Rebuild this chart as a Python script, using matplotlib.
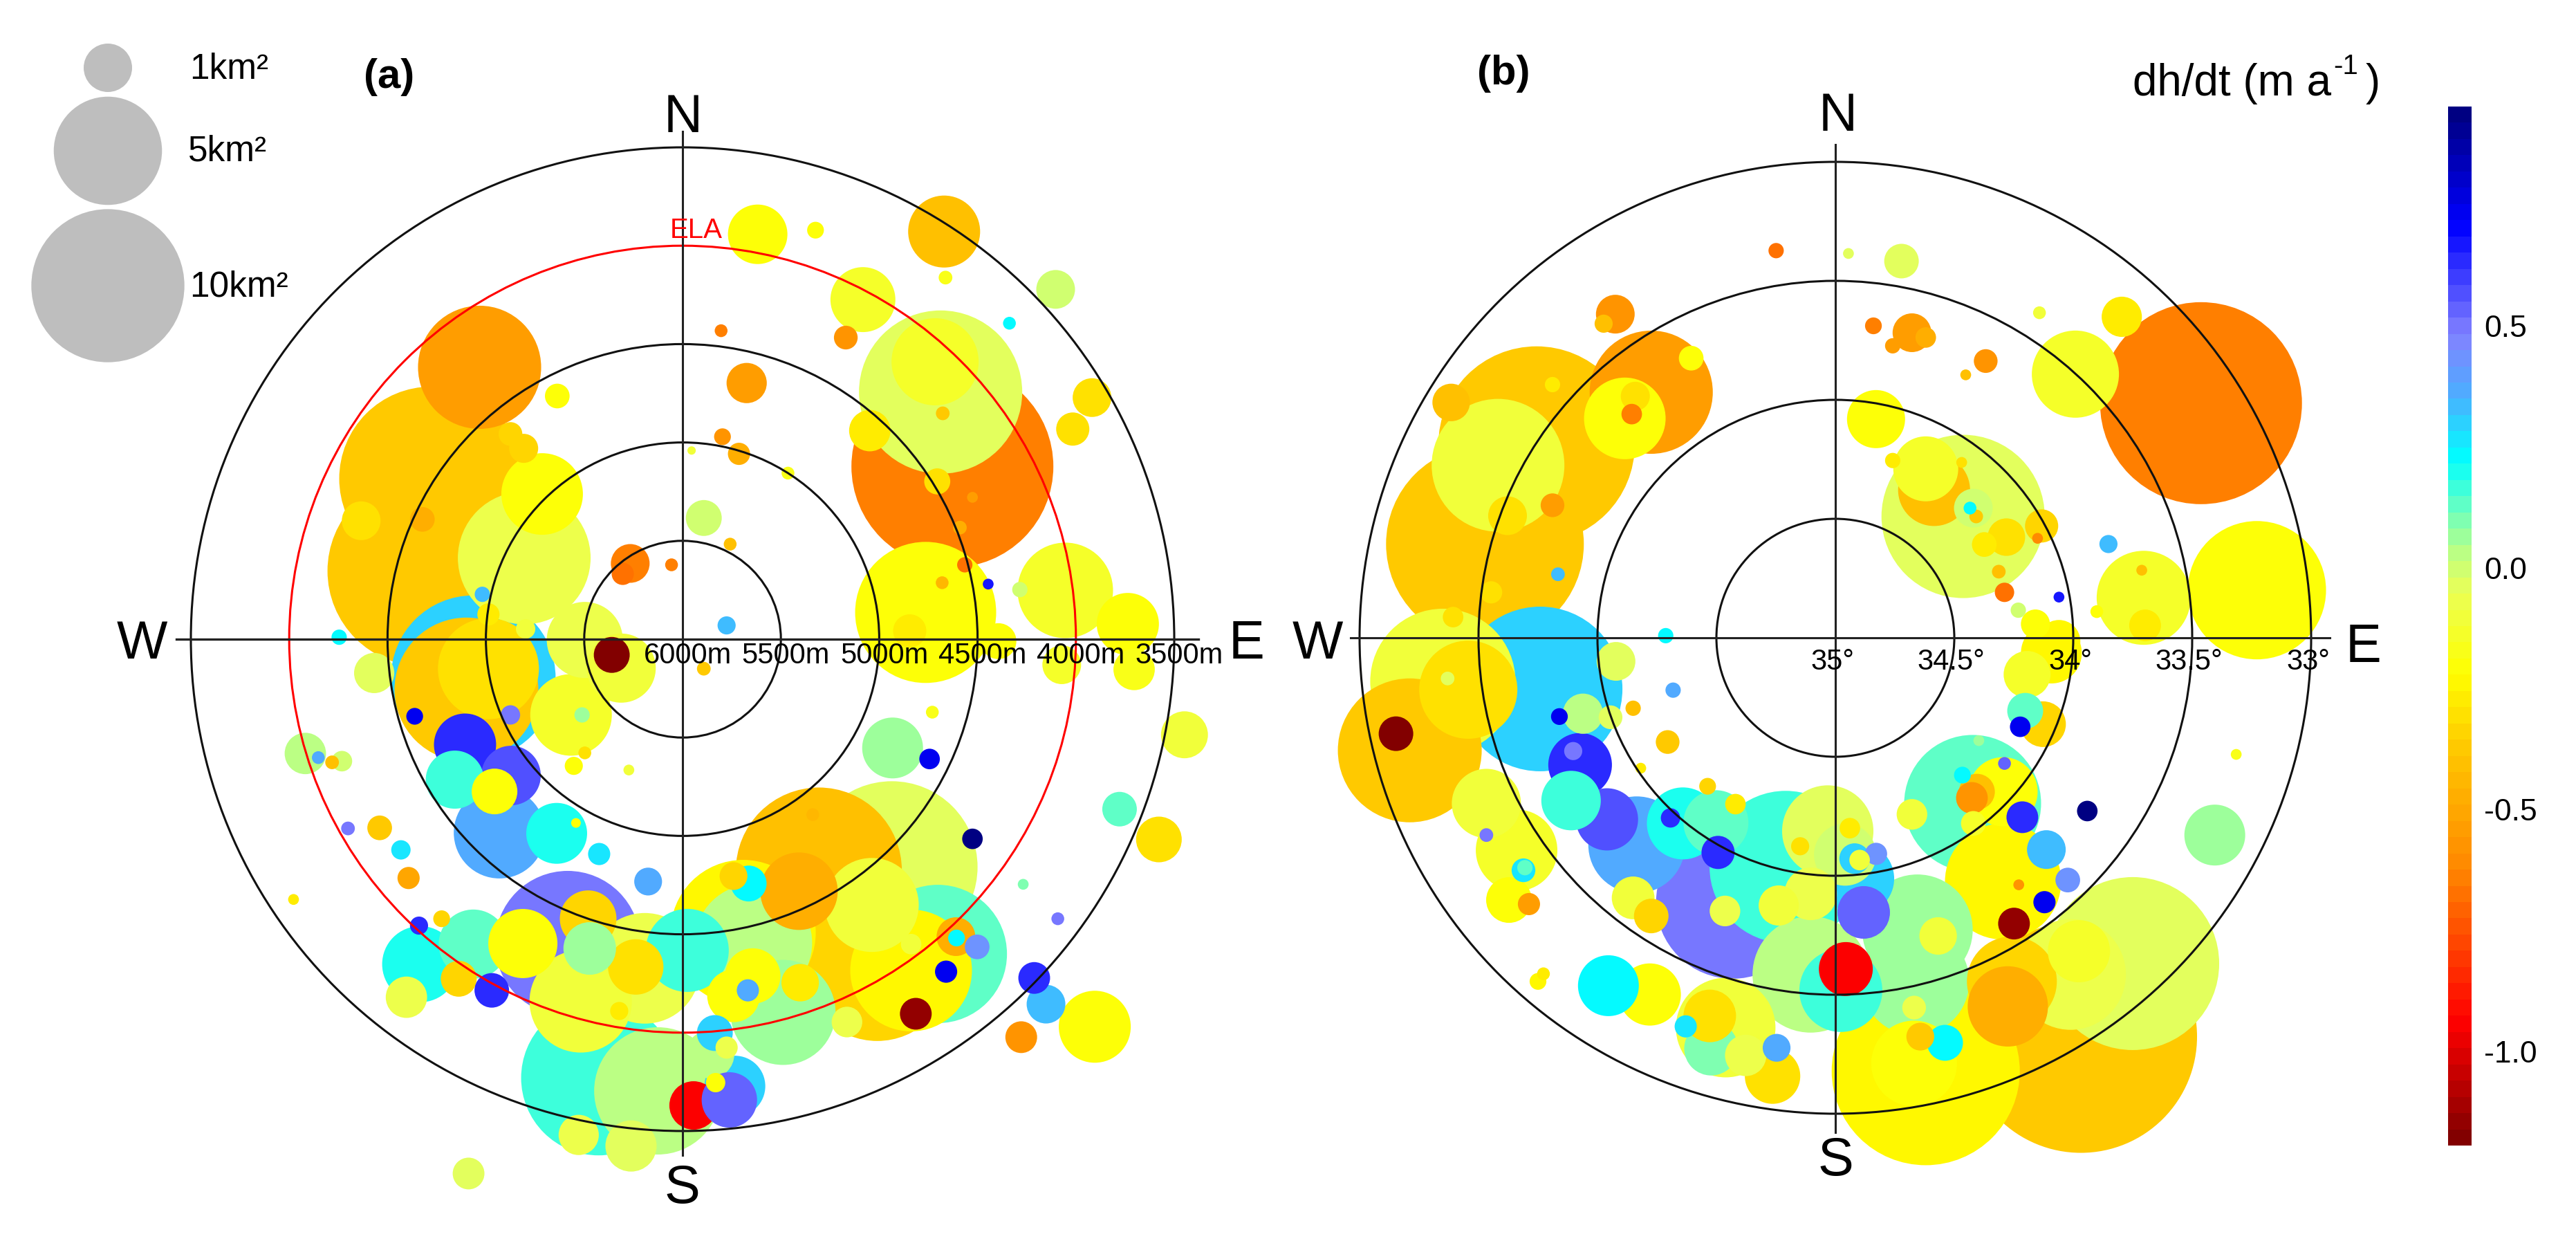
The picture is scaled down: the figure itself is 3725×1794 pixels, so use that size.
import numpy as np
import matplotlib
matplotlib.use('Agg')
import matplotlib.pyplot as plt
from matplotlib.cm import ScalarMappable
from matplotlib.colors import LinearSegmentedColormap, Normalize
from matplotlib.patches import Circle

plt.rcParams['font.family'] = ['Liberation Sans', 'DejaVu Sans']
plt.rcParams['axes.unicode_minus'] = False

W, H = 3725, 1794

# panel a: east / north offset in metres of elevation below 6000 m, area km2, dh/dt m/a
a_east = [
    -1278, -1320, -1032, -805, -497, -1064, -1099, -987, -714, -312, -567, -1568, -1746, -1018, -987, -798, -875, -808, -637, -1634, -1323, -266, -304, -56, 46, 108, -360,
    382, 676, 1330, 1337, 1897, 1662, 917, 830, 196, 326, 1372, 1312, 1284, 1323, 952, 2082, 1984, 203, 287, 536, 242, 1295, 1474, 1410, 1236, 1435, 1320, 1155, 1554, 1928, 2296, 1946, 1715, 2264, 1606, 224,
    108, -1362, -875, -511, -497, -553, -273, -1106, -931, -872, -1158, -956, -640, -542, -1918, -1732, -1852, -1782, 1068, 1256, 1270, 2552, 2222, 2422, 1474, 1732, 1908, 1848, 1788, 2096, 1722, -1701, -1540, -1432, -1393, -1978, -424, -175,
    -427, -126, -584, 693, 1064, 990, 1298, 1162, 1162, 962, 592, 308, 360, 511, -192, -518, -480, -472, 24, -238, -1334, -1064, -812, -1138, -970, -1404, -1340, -1225, -322, 259, 357, 332, 598, 336, 259, 662, 1390, 1393, 1498, 1340, 1186, 836, 140, 164, 224, 266, 56, -528, -262, -1088,
]
a_north = [
    816, 347, 1382, 413, -4, -196, -256, -150, 738, -147, -385, -172, 10, 228, 126, 52, 1043, 970, 1236, 602, 609, 385, 332, 378, 959, 616, -80,
    2058, 2079, 2072, 1838, 1778, 1606, 1726, 1533, 1568, 1302, 878, 1256, 1410, 1148, 1060, 1228, 1068, 1029, 942, 844, 483, 802, 721, 567, 136, 378, 287, 42, 280, -130, -154, 248, 252, 77, -10, 70,
    -150, -392, -385, -385, -578, -644, -665, -536, -984, -693, -714, -774, -987, -934, -581, -620, -602, -626, -553, -609, -371, -486, -864, -1018, -1015, -1246, -1421, -1855, -1722, -1970, -2023, -962, -959, -1071, -1214, -1323, -1092, -1232,
    -2230, -2296, -1547, -1176, -1158, -1666, -1600, -1684, -1550, -1351, -1281, -1491, -1544, -1897, -1673, -1841, -1421, -1572, -1582, -1666, -1652, -1550, -1547, -1726, -1785, -1820, -1456, -1421, -1890, -1813, -1712, -1785, -1746, -1242, -1204, -892, -1512, -1519, -1564, -1690, -1904, -1946, -2110, -2002, -2076, -2272, -2370, -2520, -2576, -2716,
]
a_area = [
    14.44, 15.55, 6.47, 7.52, 2.47, 11.56, 8.83, 4.35, 2.84, 2.04, 2.84, .69, .10, .10, .21, .16, .24, .36, .26, .64, .26, .64, .21, .07, .03, .55, .55,
    1.51, .12, 2.21, .08, .64, .07, 1.8, .24, .07, .69, 17.4, 11.37, 3.24, .08, .73, .64, .47, .12, .21, .07, .07, .29, .05, .08, 8.49, .10, .07, .47, .05, .64, .73, 3.89, .10, 1.65, .55, .14,
    .08, .12, .16, .10, .07, .14, .05, 1.65, 3.56, 1.51, 1.44, .89, 1.58, .04, .73, .18, .07, .08, 1.58, .18, .07, .94, .51, .89, .18, .05, .07, .64, .43, 2.21, .43, .08, .26, .16, .21, .05, .21, .33,
    10.24, 6.91, 9.0, 11.76, 12.55, 9.35, 8.16, 6.32, .18, 3.77, 2.56, 9.0, 5.9, 4.71, 5.22, 4.47, 1.37, 1.18, 2.94, 1.31, 2.47, 2.04, 2.04, .55, .51, .73, .14, .12, .14, 1.18, 1.31, .21, .6, .55, .33, .07, .64, .12, .26, .21, .43, .40, 1.0, .55, .21, 1.58, 1.0, .69, 1.12, .43,
]
a_dhdt = [
    -.37, -.37, -.53, -.08, -.08, .29, -.37, -.31, -.22, -.09, -.13, -.05, .245, .32, -.26, -.09, -.33, -.33, -.22, -.31, -.48, -.63, -.69, -.63, -.1, .0, -1.19,
    -.22, -.22, -.42, -.18, .01, .245, -.13, -.57, -.63, -.53, -.63, -.05, -.13, -.37, -.26, -.31, -.31, -.57, -.48, -.18, -.42, -.29, -.53, -.48, -.22, -.69, -.45, -.28, .67, -.13, -.18, -.13, .01, -.22, -.22, .33,
    -.37, .72, .50, .08, -.31, -.22, -.09, .63, .36, .56, .16, -.22, .21, -.22, .02, .0, .36, -.42, .055, .72, -.18, -.09, .12, -.31, .93, .10, .50, .32, .65, -.22, -.57, .5, -.37, .28, -.5, -.26, .28, .36,
    .17, .03, .49, -.40, -.05, -.33, .14, -.25, -.1, -.09, -.48, -.25, .04, .055, -.06, -.09, -.33, .08, .17, -.29, .21, .14, -.22, -.33, .63, -.07, .65, -.33, -.26, -.22, -.22, .36, -.27, .245, -.33, -.45, -.48, .23, .44, .74, -1.14, -.07, .02, .29, -.07, .30, -.95, -.08, -.04, -.04,
]
# these two lie over the red one although they are not the larger
a_top_east = [238, 168]
a_top_north = [-2342, -2254]
a_top_area = [1.31, .16]
a_top_dhdt = [.52, -.22]

# panel b: east / north offset in degrees of latitude from 35N, area km2, dh/dt m/a
b_east = [
    -1.256, -1.473, -1.418, -1.615, -1.189, -1.189, -1.378, -1.447, -1.166, -1.607, -.774, -.606, -.885, -.841, -.856, -.925, -.974, -.249, .055, .278, .16, .322, .38, .241, .632, .548, .858,
    1.537, 1.204, 1.009, .171, .241, .537, .415, .38, .531, .58, .592, .566, .626, .719, .867, .85, .687, .711, 1.148, .94, .769, .908, .841, .94, .806, 1.772, 1.296, 1.288, 1.302, 1.099,
    -1.467, -1.34, -1.241, -1.65, -1.543, -1.789, -1.63, -1.847, -1.467, -.713, -.922, -.682, -.85, -.705, -1.061, -1.16, -.945, -.835, -1.073, -1.102, -.96, -1.111, -1.311, -1.305, -1.372, -1.288, -.818,
    -.432, -.85, -.774, -.209, -.502, -.641, -.537, -.42, -.693, -.493, -.032, .041, .061, -.148, .096, .081, .102, .171, .119, -.104, -.238, -.464,
    .345, .336, .432, .331, -.104, .023, .044, -.78, -.954, -1.25, -1.227, -.461, -.528, -.377, -.522, -.629, -.264, -.247,
    1.032, .742, .38, .331, .357, .461, 1.25, .989, 1.024, .725, .577, .705, .705, .595, .574, .534, .711, .603, .322, .58, .786, .887, .977, .771, .879, .751, 1.059, 1.595, 1.685, .873, .798, .777,
]
b_north = [
    .812, .394, .725, .989, 1.064, .557, .513, .191, .267, .087, 1.032, 1.175, .922, 1.015, .94, 1.36, 1.32, 1.627, 1.615, 1.583, 1.311, 1.282, 1.262, 1.227, 1.163, 1.105, 1.366,
    .986, 1.349, 1.108, .919, .745, .51, .621, .71, .737, .545, .51, .545, .392, .423, .47, .418, .278, .191, .394, .171, .116, -.064, .058, -.015, -.154, .2, .168, .284, .052, .11,
    -.696, -.893, -.215, -.183, -.218, -.473, -.171, -.403, -.829, .009, -.099, -.22, -.296, -.438, -.319, -.331, -.334, -.87, -.534, -.476, -.763, -.684, -.977, -.966, -1.102, -1.119, -.548,
    -1.111, -1.093, -1.169, -.963, -.777, -.78, -.624, -.699, -.757, -.902, -.812, -.911, -.8, -.876, -1.012, -.928, -.934, -.908, -1.154, -1.076, -1.125, -1.148,
    -1.227, -1.444, -1.253, -1.554, -1.415, -1.482, -1.392, -1.499, -1.462, -1.444, -1.412, -1.638, -1.589, -1.755, -1.726, -1.633, -1.842, -1.723,
    -1.676, -1.444, -1.821, -1.789, -1.676, -1.702, -1.369, -1.415, -1.317, -1.549, -.696, -1.024, -.647, -.647, -.673, -.577, -.528, -.432, -.742, -.78, -.754, -.89, -1.018, -1.038, -1.111, -1.201, -.728, -.829, -.49, -.363, -.307, -.374,
]
b_area = [
    16.46, 16.69, 7.52, .6, .10, .24, .64, .21, .08, .18, 6.47, .26, 2.84, .36, .18, .64, .14, .10, .05, .51, .12, .64, .18, .10, .24, .05, .07,
    17.4, .69, 3.24, 1.44, .10, 11.37, 2.21, 1.8, .05, .64, .08, .07, .26, .6, .47, .05, .08, .16, .14, .05, .10, 1.58, .36, .78, .94, 8.16, 3.77, .05, .43, .07,
    2.04, 2.84, 11.56, 9.0, 4.11, 8.83, .08, .51, .08, .10, .64, .10, .10, .24, .69, .12, .24, 4.0, 1.73, .14, 1.65, 1.51, .24, .10, .89, .21, .05,
    10.0, .78, .51, 9.88, 1.8, 2.21, .12, .18, .16, .47, 3.56, 1.65, .18, .14, 2.21, .40, .18, .21, 1.18, 1.18, .69, .40,
    5.22, 4.97, .6, .24, 5.76, 2.94, 1.24, 1.65, 1.58, .12, .07, 4.23, 1.18, .73, 1.24, .21, 1.31, .33,
    23.04, 3.45, 15.1, 3.14, .33, .55, 12.76, 5.22, 1.65, 2.75, 8.0, 5.76, 2.04, .55, .43, .12, .07, .05, .40, .26, .43, .64, .26, .05, .21, .43, .18, 1.58, .05, .89, .55, .18,
]
b_dhdt = [
    -.37, -.37, -.09, -.42, -.26, -.53, -.29, -.31, .33, -.29, -.53, -.22, -.22, -.31, -.63, -.57, -.4, -.69, -.05, -.04, -.63, -.55, -.48, -.55, -.57, -.42, -.09,
    -.63, -.26, -.13, -.22, -.26, -.05, -.42, -.13, -.3, .01, -.37, .245, -.28, -.31, -.33, -.6, -.42, -.69, .33, .67, .01, -.24, -.2, -.24, -.13, -.22, -.13, -.42, -.28, -.22,
    -.09, -.15, .29, -.09, -.31, -.37, -.05, -1.19, .5, .245, -.05, .36, -.42, -.37, .02, .72, -.05, .36, .63, .5, .56, .16, .28, .12, -.22, -.53, -.26,
    .49, -.09, -.33, .15, .14, .2, -.33, -.27, .65, .63, -.05, .0, -.26, -.29, .31, .3, -.09, .42, .52, -.08, -.09, -.08,
    .055, .055, -.1, -.06, .03, .18, -.95, -.22, .22, -.24, -.26, -.09, -.31, -.06, .085, .28, -.3, .36,
    -.37, -.35, -.24, -.22, -.37, .245, -.05, -.08, -.13, -.48, .13, -.24, -.22, -.42, -.57, .245, .52, .08, -.09, -.13, .65, .32, .44, -.57, .74, -1.14, .93, .055, -.18, -.33, .14, .72,
]

elevations = [5500, 5000, 4500, 3500]
ela = 4000
elev_labels = [6000, 5500, 5000, 4500, 4000, 3500]
latitudes = [34.5, 34, 33.5, 33]
lat_labels = ['35°', '34.5°', '34°', '33.5°', '33°']
lat_values = [35, 34.5, 34, 33.5, 33]
legend_areas = [1, 5, 10]
cbar_ticks = [-1.0, -0.5, 0.0, 0.5]
vmin, vmax = -1.194, 0.953

cmap_vals = [-1.194, -.95, -.63, -.38, -.22, -.05, .03, .12, .23, .36, .49, .72, .953]
cmap_cols = ['#820000', '#ff0000', '#ff8700', '#ffc800', '#ffff00', '#ebff55', '#beff82', '#6effbe',
             '#00ffff', '#4bafff', '#8282ff', '#0000ff', '#000082']

cmap = LinearSegmentedColormap.from_list(
    'dhdt', [((v - vmin) / (vmax - vmin), c) for v, c in zip(cmap_vals, cmap_cols)], N=64)
norm = Normalize(vmin, vmax)

# 1 km2 is 35 px in radius on the reference, at dpi 100
size_k = (2 * 35 * 0.72) ** 2

fig = plt.figure(figsize=(W / 100, H / 100), dpi=100)


def panel_axes(cx, cy, ppu):
    # full figure axes with the origin at the middle of the polar plot
    ax = fig.add_axes([0, 0, 1, 1])
    ax.set_xlim(-cx / ppu, (W - cx) / ppu)
    ax.set_ylim(-(H - cy) / ppu, cy / ppu)
    ax.axis('off')
    ax.patch.set_alpha(0)
    return ax


def bubbles(ax, east, north, area, dhdt):
    # big glaciers go below the small ones
    order = np.argsort(-np.array(area), kind='stable')
    ax.scatter(np.array(east)[order], np.array(north)[order], s=np.array(area)[order] * size_k,
               c=np.array(dhdt)[order], cmap=cmap, norm=norm, linewidths=0, zorder=1)


ppu_a = 142.2 / 500
ax_a = panel_axes(987, 924, ppu_a)
bubbles(ax_a, a_east, a_north, a_area, a_dhdt)
ax_a.scatter(a_top_east, a_top_north, s=np.array(a_top_area) * size_k, c=a_top_dhdt, cmap=cmap, norm=norm, linewidths=0, zorder=1)
for e in elevations:
    ax_a.add_patch(Circle((0, 0), 6000 - e, fill=False, ec='#111111', lw=2.2, zorder=2))
ax_a.add_patch(Circle((0, 0), 6000 - ela, fill=False, ec='#ff0000', lw=2.2, zorder=2))
ax_a.plot([-732 / ppu_a, 746 / ppu_a], [0, 0], color='#222222', lw=2.4, zorder=3)
ax_a.plot([0, 0], [-746 / ppu_a, 734 / ppu_a], color='#222222', lw=2.2, zorder=3)
for e in elev_labels:
    ax_a.text(6000 - e + 25, -85, f'{e}m', fontsize=30, ha='center', va='center', zorder=4)

ppu_b = 344.0
ax_b = panel_axes(2654, 922, ppu_b)
bubbles(ax_b, b_east, b_north, b_area, b_dhdt)
for lat in latitudes:
    ax_b.add_patch(Circle((0, 0), 35 - lat, fill=False, ec='#111111', lw=2.2, zorder=2))
ax_b.plot([-701 / ppu_b, 715 / ppu_b], [0, 0], color='#222222', lw=2.2, zorder=3)
ax_b.plot([0, 0], [-715 / ppu_b, 713 / ppu_b], color='#222222', lw=2.2, zorder=3)
for lat, lab in zip(lat_values, lat_labels):
    ax_b.text(35 - lat - 0.013, -35 / ppu_b, lab, fontsize=30, ha='center', va='center', zorder=4)

# texts and size legend, in reference pixels
ov = fig.add_axes([0, 0, 1, 1])
ov.set_xlim(0, W)
ov.set_ylim(H, 0)
ov.axis('off')
ov.patch.set_alpha(0)

ov.scatter([156, 156, 156], [98, 218, 413], s=np.array(legend_areas) * size_k, color='#bebebe', linewidths=0)
for lab, x, y in zip(['1km²', '5km²', '10km²'], [274, 272, 274], [100, 219, 415]):
    ov.text(x, y, lab, fontsize=37, ha='left', va='center')

for lab, x, y in [('N', 988, 191), ('W', 205, 952), ('E', 1803, 952), ('S', 986, 1739),
                  ('N', 2658, 189), ('W', 1905, 952), ('E', 3418, 957), ('S', 2654, 1699)]:
    ov.text(x, y, lab, fontsize=56, ha='center', va='baseline')

ov.text(563, 127, '(a)', fontsize=43, fontweight='bold', ha='center', va='baseline')
ov.text(2174, 122, '(b)', fontsize=43, fontweight='bold', ha='center', va='baseline')
ov.text(1007, 344, 'ELA', fontsize=29, color='#ff0000', ha='center', va='baseline')

t = ov.text(3084, 138, 'dh/dt (m a', fontsize=46, ha='left', va='baseline')
ov.annotate('-1', xy=(1, 0), xycoords=t, xytext=(2, 26), textcoords='offset points', fontsize=29, ha='left', va='bottom')
ov.text(3442, 138, ')', fontsize=46, ha='right', va='baseline')

cax = fig.add_axes([3540 / W, 1 - 1656 / H, 34 / W, 1502 / H])
cb = fig.colorbar(ScalarMappable(norm=norm, cmap=cmap), cax=cax, ticks=cbar_ticks, format='%.1f')
cb.outline.set_visible(False)
cb.ax.tick_params(length=0, labelsize=32, pad=13)

fig.savefig('out.png', dpi=100)
